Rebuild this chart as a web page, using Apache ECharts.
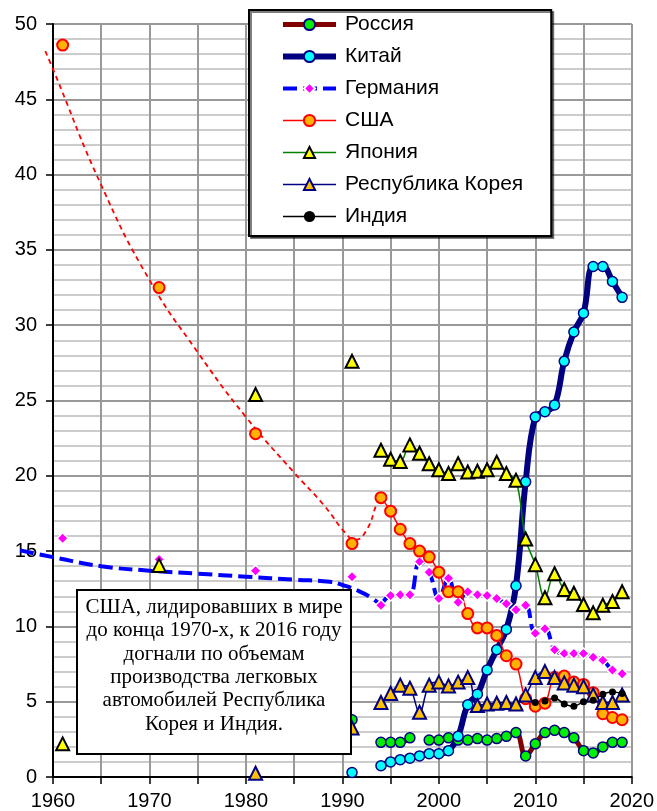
<!DOCTYPE html>
<html>
<head>
<meta charset="utf-8">
<script src="https://cdn.jsdelivr.net/npm/echarts@6/dist/echarts.min.js"></script>
<style>
  html, body { margin: 0; padding: 0; background: #fff; }
  #chart { width: 657px; height: 811px; }
</style>
</head>
<body>
<div id="chart"></div>
<script>
// Annual production share, %, 1994-2019
const years = [1994, 1995, 1996, 1997, 1998, 1999, 2000, 2001, 2002, 2003, 2004, 2005, 2006,
               2007, 2008, 2009, 2010, 2011, 2012, 2013, 2014, 2015, 2016, 2017, 2018, 2019];
const russia  = [2.3, 2.3, 2.3, 2.6, null, 2.45, 2.45, 2.6, 2.45, 2.45, 2.55, 2.45, 2.55,
                 2.7, 2.95, 1.4, 2.2, 2.95, 3.1, 2.95, 2.6, 1.75, 1.6, 2.0, 2.3, 2.3];
const china   = [0.75, 1.0, 1.15, 1.25, 1.4, 1.55, 1.55, 1.75, 2.7, 4.8, 5.5, 7.1, 8.45,
                 9.8, 12.7, 19.6, 23.9, 24.25, 24.7, 27.6, 29.55, 30.8, 33.9, 33.9, 32.9, 31.85];
const germany = [11.4, 12.05, 12.1, 12.1, 14.3, 13.6, 11.85, 13.2, 11.6, 12.3, 12.1, 12.05, 11.85,
                 11.5, 11.1, 11.4, 9.55, 9.85, 8.45, 8.2, 8.2, 8.2, 7.95, 7.75, 7.1, 6.85];
const usa     = [18.55, 17.65, 16.45, 15.5, 15.0, 14.6, 13.6, 12.3, 12.3, 10.85, 9.9, 9.9, 9.4,
                 8.05, 7.5, 5.2, 4.7, 4.9, 6.6, 6.7, 6.3, 6.15, 5.6, 4.2, 3.95, 3.8];
const japan   = [21.7, 21.1, 20.95, 22.05, 21.5, 20.8, 20.4, 20.15, 20.8, 20.25, 20.3, 20.4, 20.9,
                 20.15, 19.7, 15.8, 14.1, 11.9, 13.5, 12.45, 12.2, 11.45, 10.9, 11.4, 11.65, 12.3];
const korea   = [4.95, 5.55, 6.1, 5.9, 4.3, 6.1, 6.3, 6.05, 6.3, 6.6, 4.75, 4.85, 4.9,
                 4.95, 4.85, 5.45, 6.6, 7.0, 6.6, 6.25, 6.1, 6.0, 5.45, 4.95, 4.95, 5.45];
const indiaYears = [2010, 2011, 2012, 2013, 2014, 2015, 2016, 2017, 2018, 2019];
const india   = [4.95, 5.05, 5.25, 4.85, 4.7, 5.0, 5.1, 5.5, 5.65, 5.55];

// Decade snapshots, shown as separate markers
const earlyYears   = [1961, 1971, 1981, 1991];
const russiaEarly  = [null, null, null, 3.8];
const chinaEarly   = [null, null, null, 0.3];
const germanyEarly = [15.85, 14.45, 13.7, 13.3];
const usaEarly     = [48.6, 32.5, 22.8, 15.5];
const japanEarly   = [2.2, 14.05, 25.4, 27.6];
const koreaEarly   = [null, null, 0.25, 3.25];

// Long-run trend curves for the USA and Germany (they start a little before 1960)
const usaTrendYears = [1959.2, 1960, 1965, 1970, 1975, 1980, 1985, 1988, 1990.5, 1991.3, 1992.5, 1993.6, 1994];
const usaTrend      = [48.2, 47.0, 39.3, 33.0, 28.2, 23.9, 20.2, 18.1, 16.05, 15.75, 16.4, 18.2, 18.55];
const deTrendYears  = [1956.6, 1960, 1965, 1970, 1975, 1980, 1985, 1988.7, 1990, 1991.5, 1993, 1994];
const deTrend       = [15.05, 14.6, 14.0, 13.7, 13.5, 13.3, 13.1, 12.96, 12.75, 12.4, 11.9, 11.4];

const xTicks = { min: 1960, max: 2020, step: 5, labelStep: 10 };
const yTicks = { min: 0, max: 50, step: 5 };
const trendStart = 1956;   // wider, hidden x range used by the trend curves

const names = ['Россия', 'Китай', 'Германия', 'США', 'Япония', 'Республика Корея', 'Индия'];

// build [x, y] pairs; isolated decade points are separated by breaks
function seriesData(earlyVals, mainYears, mainVals) {
  const out = [];
  if (earlyVals) {
    earlyYears.forEach((y, i) => {
      if (earlyVals[i] != null) { out.push([y, earlyVals[i]]); }
      out.push([y + 1, '-']);
    });
  }
  mainYears.forEach((y, i) => out.push([y, mainVals[i] == null ? '-' : mainVals[i]]));
  return out;
}
function pairs(xs, ys) { return xs.map((x, i) => [x, ys[i]]); }

const chart = echarts.init(document.getElementById('chart'), null, { renderer: 'canvas' });

const sans = '"Liberation Sans", Arial, sans-serif';
const serif = '"Liberation Serif", "Times New Roman", serif';

// plot geometry
const G = { left: 53, right: 25, top: 24, bottom: 34 };
const plotW = 657 - G.left - G.right;
const pxPerYear = plotW / (xTicks.max - xTicks.min);
const trendLeft = G.left - pxPerYear * (xTicks.min - trendStart);

const styles = {
  'Россия':   { line: { color: '#800000', width: 5 }, symbol: 'circle', size: 10,
                item: { color: '#00ee00', borderColor: '#000080', borderWidth: 1.5 } },
  'Китай':    { line: { color: '#000080', width: 6 }, symbol: 'circle', size: 10,
                item: { color: '#00ffff', borderColor: '#000080', borderWidth: 1.5 } },
  'Германия': { line: { color: '#0000ff', width: 4, type: [14, 6] }, symbol: 'diamond', size: 11,
                item: { color: '#ff00ff', borderColor: '#ffffff', borderWidth: 1.5 } },
  'США':      { line: { color: '#ff0000', width: 1.5 }, symbol: 'circle', size: 11,
                item: { color: '#ffb300', borderColor: '#ff0000', borderWidth: 2 } },
  'Япония':   { line: { color: '#008000', width: 1.5 }, symbol: 'triangle', size: 13,
                item: { color: '#ffff00', borderColor: '#000000', borderWidth: 2 } },
  'Республика Корея': { line: { color: '#000080', width: 1.5 }, symbol: 'triangle', size: 13,
                item: { color: '#ffc000', borderColor: '#000080', borderWidth: 2 } },
  'Индия':    { line: { color: '#000000', width: 1.5 }, symbol: 'circle', size: 7,
                item: { color: '#000000' } }
};

const dataByName = {
  'Россия': seriesData(russiaEarly, years, russia),
  'Китай': seriesData(chinaEarly, years, china),
  'Германия': seriesData(germanyEarly, years, germany),
  'США': seriesData(usaEarly, years, usa),
  'Япония': seriesData(japanEarly, years, japan),
  'Республика Корея': seriesData(koreaEarly, years, korea),
  'Индия': seriesData(null, indiaYears, india)
};

const series = [
  {
    name: 'США тренд', type: 'line', smooth: 0.5, showSymbol: false,
    xAxisIndex: 1, yAxisIndex: 1,
    data: pairs(usaTrendYears, usaTrend),
    lineStyle: { color: '#ff0000', width: 1.8, type: [5, 4] },
    silent: true, z: 2
  },
  {
    name: 'Германия тренд', type: 'line', smooth: 0.5, showSymbol: false,
    xAxisIndex: 1, yAxisIndex: 1,
    data: pairs(deTrendYears, deTrend),
    lineStyle: { color: '#0000ff', width: 4, type: [14, 6] },
    silent: true, z: 2
  }
].concat(names.map(n => ({
  name: n, type: 'line', smooth: 0.4, connectNulls: false,
  data: dataByName[n],
  lineStyle: styles[n].line,
  symbol: styles[n].symbol, symbolSize: styles[n].size,
  itemStyle: styles[n].item,
  z: 3
})));

const option = {
  animation: false,
  backgroundColor: '#ffffff',
  grid: [
    { left: G.left, right: G.right, top: G.top, bottom: G.bottom, containLabel: false },
    { left: trendLeft, right: G.right, top: G.top, bottom: G.bottom, containLabel: false }
  ],
  xAxis: [
    {
      type: 'value', min: xTicks.min, max: xTicks.max, interval: xTicks.step, gridIndex: 0,
      axisLine: { show: true, onZero: false, lineStyle: { color: '#000', width: 2 } },
      axisTick: { show: true, length: 7, lineStyle: { color: '#000', width: 1.5 } },
      axisLabel: {
        margin: 14, color: '#000', fontSize: 20, fontFamily: sans,
        formatter: v => (v % xTicks.labelStep === 0 ? String(v) : '')
      },
      splitLine: { show: true, lineStyle: { color: '#999999', width: 2 } }
    },
    {
      type: 'value', min: trendStart, max: xTicks.max, gridIndex: 1, show: false
    }
  ],
  yAxis: [
    {
      type: 'value', min: yTicks.min, max: yTicks.max, interval: yTicks.step, gridIndex: 0,
      axisLine: { show: true, lineStyle: { color: '#000', width: 2 } },
      axisTick: { show: true, length: 7, lineStyle: { color: '#000', width: 1.5 } },
      axisLabel: { margin: 16, color: '#000', fontSize: 20, fontFamily: sans },
      splitLine: { show: true, lineStyle: { color: '#999999', width: 2 } },
      minorTick: { show: false, splitNumber: 5 },
      minorSplitLine: { show: true, lineStyle: { color: '#cccccc', width: 2 } }
    },
    {
      type: 'value', min: yTicks.min, max: yTicks.max, gridIndex: 1, show: false
    }
  ],
  legend: {
    data: names.map(n => ({
      name: n,
      lineStyle: { width: Math.min(styles[n].line.width, 6) }
    })),
    orient: 'vertical', left: 249, top: 10,
    padding: [4, 28, 9, 31],
    itemWidth: 53, itemHeight: 14, itemGap: 11,
    backgroundColor: '#ffffff', borderColor: '#000000', borderWidth: 2,
    shadowColor: 'rgba(0,0,0,0.5)', shadowOffsetX: 2, shadowOffsetY: 2,
    textStyle: { fontSize: 21, fontFamily: sans, color: '#000', padding: [0, 0, 0, 4] },
    z: 20
  },
  graphic: [
    {
      type: 'group', left: 76, top: 589,
      children: [
        {
          type: 'rect', z: 100, shape: { x: 0, y: 0, width: 274, height: 164 },
          style: { fill: '#ffffff', stroke: '#000000', lineWidth: 2 }
        },
        {
          type: 'text', z: 101, x: 137, y: 6,
          style: {
            text: 'США, лидировавших в мире\nдо конца 1970-х, к 2016 году\nдогнали по объемам\nпроизводства легковых\nавтомобилей Республика\nКорея и Индия.',
            align: 'center', verticalAlign: 'top',
            font: '21px ' + serif, lineHeight: 23.3, fill: '#000'
          }
        }
      ]
    }
  ],
  series: series
};

chart.setOption(option);
</script>
</body>
</html>
